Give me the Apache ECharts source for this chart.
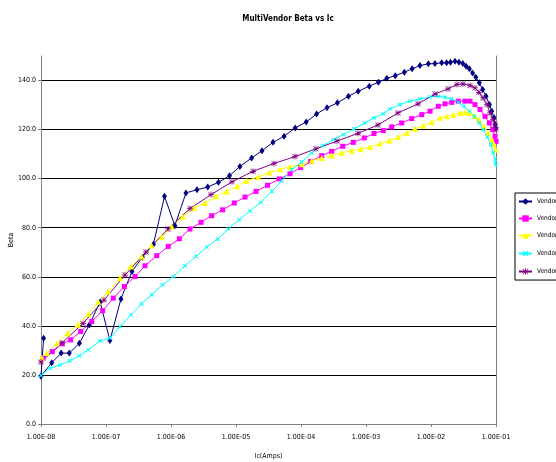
<!DOCTYPE html>
<html>
<head>
<meta charset="utf-8">
<script src="https://cdn.jsdelivr.net/npm/echarts@6/dist/echarts.min.js"></script>
<style>
html,body{margin:0;padding:0;background:#fff;}
#chart{width:556px;height:462px;}
</style>
</head>
<body>
<div id="chart"></div>
<script>
// ---- data (log10 of Ic in amps, and beta) ----
const seriesNames = ['Vendor A', 'Vendor B', 'Vendor C', 'Vendor D', 'Vendor E'];

const vendorA_logIc = [-7.96, -8.0, -7.835, -7.69, -7.565, -7.41, -7.257, -7.09, -6.94, -6.77, -6.60, -6.44, -6.27, -6.10, -5.94, -5.77, -5.60, -5.435, -5.27, -5.10, -4.94, -4.76, -4.60, -4.43, -4.26, -4.09, -3.92, -3.76, -3.60, -3.44, -3.27, -3.12, -2.95, -2.81, -2.68, -2.55, -2.41, -2.29, -2.17, -2.04, -1.94, -1.835, -1.76, -1.70, -1.63, -1.57, -1.51, -1.46, -1.41, -1.36, -1.31, -1.257, -1.205, -1.154, -1.10, -1.066, -1.03, -1.011, -1.005];
const vendorA_beta = [35.0, 19.5, 25.0, 28.9, 28.9, 32.9, 40.4, 49.7, 34.0, 51.0, 62.2, 68.0, 73.3, 92.8, 80.8, 94.2, 95.5, 96.6, 98.5, 101.2, 105.0, 108.4, 111.4, 114.8, 117.3, 120.7, 123.1, 126.4, 128.9, 130.9, 133.6, 135.6, 137.7, 139.3, 140.9, 142.0, 143.4, 144.8, 146.1, 146.8, 146.9, 147.2, 147.2, 147.5, 147.9, 147.5, 146.9, 145.8, 144.8, 143.1, 141.3, 139.1, 136.3, 133.6, 130.2, 127.5, 124.8, 122.0, 120.7];

const vendorB_logIc = [-7.965, -7.826, -7.672, -7.543, -7.389, -7.22, -7.051, -6.888, -6.718, -6.554, -6.40, -6.22, -6.042, -5.872, -5.708, -5.538, -5.374, -5.205, -5.026, -4.862, -4.692, -4.515, -4.334, -4.169, -4.005, -3.851, -3.682, -3.528, -3.358, -3.195, -3.026, -2.877, -2.734, -2.605, -2.451, -2.297, -2.143, -2.015, -1.888, -1.785, -1.682, -1.58, -1.477, -1.40, -1.323, -1.246, -1.169, -1.103, -1.051, -1.015, -1.0];
const vendorB_beta = [26.8, 29.5, 32.7, 34.3, 37.7, 41.8, 46.2, 51.3, 56.0, 60.1, 64.5, 68.6, 72.4, 75.5, 79.5, 82.2, 84.9, 87.3, 90.1, 92.5, 94.8, 97.3, 99.9, 102.0, 104.5, 107.0, 109.4, 111.1, 113.2, 114.8, 116.6, 118.4, 119.6, 121.1, 122.7, 124.5, 126.1, 127.5, 129.5, 130.5, 131.1, 131.6, 131.6, 131.6, 130.2, 128.2, 125.4, 122.7, 120.0, 117.3, 115.2];

const vendorC_logIc = [-7.985, -7.908, -7.754, -7.592, -7.431, -7.272, -7.118, -6.965, -6.785, -6.62, -6.451, -6.297, -6.143, -5.989, -5.82, -5.646, -5.477, -5.308, -5.143, -4.98, -4.835, -4.657, -4.488, -4.323, -4.169, -3.989, -3.835, -3.682, -3.528, -3.374, -3.22, -3.082, -2.938, -2.785, -2.642, -2.503, -2.374, -2.246, -2.118, -1.989, -1.862, -1.758, -1.657, -1.554, -1.477, -1.40, -1.323, -1.257, -1.185, -1.118, -1.066, -1.031, -1.005];
const vendorC_beta = [27.0, 28.9, 32.9, 37.0, 40.6, 44.8, 49.8, 54.0, 59.5, 64.2, 68.3, 72.8, 76.2, 80.5, 84.6, 88.0, 90.1, 92.8, 94.8, 96.9, 99.2, 100.7, 102.5, 103.8, 104.8, 105.9, 107.3, 108.4, 109.4, 110.5, 111.4, 112.1, 112.9, 114.3, 115.6, 117.0, 118.6, 120.3, 121.6, 123.0, 124.8, 125.4, 126.1, 126.8, 127.1, 126.8, 125.4, 123.7, 121.3, 118.6, 115.9, 113.9, 111.8];

const vendorD_logIc = [-8.0, -7.862, -7.708, -7.554, -7.411, -7.272, -7.092, -6.938, -6.785, -6.615, -6.454, -6.297, -6.128, -5.965, -5.785, -5.615, -5.451, -5.282, -5.118, -4.949, -4.785, -4.62, -4.451, -4.297, -4.143, -3.989, -3.835, -3.666, -3.503, -3.349, -3.185, -3.015, -2.877, -2.734, -2.631, -2.477, -2.323, -2.169, -2.015, -1.888, -1.785, -1.682, -1.58, -1.492, -1.411, -1.334, -1.257, -1.195, -1.134, -1.082, -1.042, -1.015, -1.005];
const vendorD_beta = [19.8, 22.7, 24.1, 25.8, 27.8, 30.2, 33.9, 35.0, 39.7, 44.5, 49.0, 52.7, 56.7, 60.1, 64.5, 68.3, 72.1, 75.4, 79.5, 83.3, 86.9, 90.3, 94.8, 99.0, 103.7, 106.8, 110.5, 113.5, 115.9, 118.0, 120.3, 122.7, 124.8, 126.5, 128.4, 130.2, 131.6, 132.5, 133.3, 133.6, 133.2, 132.5, 131.1, 129.5, 127.5, 125.4, 122.7, 120.0, 117.0, 113.9, 110.5, 107.8, 105.7];

const vendorE_logIc = [-8.0, -7.677, -7.354, -7.031, -6.708, -6.385, -6.046, -5.708, -5.385, -5.062, -4.738, -4.415, -4.092, -3.769, -3.446, -3.123, -2.815, -2.508, -2.2, -1.938, -1.738, -1.6, -1.508, -1.4, -1.323, -1.262, -1.2, -1.138, -1.092, -1.046, -1.015, -1.0];
const vendorE_beta = [25.3, 33.0, 41.0, 50.5, 60.7, 70.1, 79.5, 87.8, 93.5, 98.7, 103.0, 106.2, 109.0, 112.2, 115.3, 118.5, 121.9, 126.8, 130.5, 134.5, 136.6, 138.4, 138.6, 138.0, 137.0, 135.2, 132.9, 130.2, 126.8, 124.1, 122.0, 120.0];

const xTickLabels = ['1.00E-08', '1.00E-07', '1.00E-06', '1.00E-05', '1.00E-04', '1.00E-03', '1.00E-02', '1.00E-01'];
const yTickValues = [0, 20, 40, 60, 80, 100, 120, 140];

// ---- build ----
function pairs(logIc, beta) {
  return logIc.map((e, i) => [Math.pow(10, e), beta[i]]);
}
const FONT = "'Liberation Sans Narrow', 'Arial Narrow', 'DejaVu Sans Condensed', 'Liberation Sans', Arial, sans-serif";
const plusPath = 'path://M4,0H6V4H10V6H6V10H4V6H0V4H4Z';
const starPath = 'path://M4.4,0H5.6V4.4H10V5.6H5.6V10H4.4V5.6H0V4.4H4.4Z M1.2,0.4L5,4.2L8.8,0.4L9.6,1.2L5.8,5L9.6,8.8L8.8,9.6L5,5.8L1.2,9.6L0.4,8.8L4.2,5L0.4,1.2Z';

const styles = [
  {color: '#000080', symbol: 'diamond', size: [5, 7], rotate: 0},
  {color: '#FF00FF', symbol: 'rect', size: 5, rotate: 0},
  {color: '#FFFF00', symbol: 'triangle', size: 6, rotate: 0},
  {color: '#00FFFF', symbol: plusPath, size: 5, rotate: 45},
  {color: '#800080', symbol: starPath, size: 6, rotate: 0}
];
const allData = [
  pairs(vendorA_logIc, vendorA_beta),
  pairs(vendorB_logIc, vendorB_beta),
  pairs(vendorC_logIc, vendorC_beta),
  pairs(vendorD_logIc, vendorD_beta),
  pairs(vendorE_logIc, vendorE_beta)
];

const chart = echarts.init(document.getElementById('chart'), null, {renderer: 'canvas'});
chart.setOption({
  backgroundColor: '#fff',
  animation: false,
  title: {
    text: 'MultiVendor Beta vs Ic',
    left: 283, top: 10, textAlign: 'center',
    textStyle: {fontFamily: FONT, fontSize: 8, fontWeight: 'bold', color: '#000'}
  },
  legend: {
    orient: 'vertical',
    left: 515, top: 193,
    padding: [5, 3, 5, 3],
    itemWidth: 13, itemHeight: 8, itemGap: 10,
    borderColor: '#000', borderWidth: 1,
    backgroundColor: '#fff',
    textStyle: {fontFamily: FONT, fontSize: 6.5, color: '#000'},
    data: seriesNames
  },
  grid: {left: 41, right: 60, top: 56, bottom: 38, containLabel: false, outerBoundsMode: 'none'},
  xAxis: {
    type: 'log', logBase: 10, min: 1e-8, max: 1e-1, interval: 1,
    name: 'Ic(Amps)', nameLocation: 'middle', nameGap: 29, nameMoveOverlap: false,
    nameTextStyle: {fontFamily: FONT, fontSize: 7, color: '#000'},
    axisLine: {show: true, lineStyle: {color: '#808080', width: 1}},
    axisTick: {show: true, inside: false, length: 3, lineStyle: {color: '#808080'}},
    minorTick: {show: false},
    splitLine: {show: false},
    axisLabel: {
      fontFamily: FONT, fontSize: 7, color: '#000', margin: 10,
      formatter: v => xTickLabels[Math.round(Math.log10(v)) + 8]
    }
  },
  yAxis: [{
    type: 'value', min: 0, max: 150, interval: 20,
    name: 'Beta', nameLocation: 'middle', nameGap: 26, nameMoveOverlap: false,
    nameTextStyle: {fontFamily: FONT, fontSize: 7, color: '#000'},
    axisLine: {show: true, lineStyle: {color: '#808080', width: 1}},
    axisTick: {show: true, length: 3, lineStyle: {color: '#808080'}, customValues: yTickValues},
    splitLine: {show: true, lineStyle: {color: '#000', width: 1}},
    axisLabel: {
      fontFamily: FONT, fontSize: 7, color: '#000', margin: 5,
      customValues: yTickValues,
      formatter: v => v.toFixed(1)
    }
  }, {
    type: 'value', min: 0, max: 150, position: 'right',
    axisLine: {show: true, lineStyle: {color: '#808080', width: 1}},
    axisTick: {show: false}, axisLabel: {show: false}, splitLine: {show: false}
  }],
  series: seriesNames.map((name, i) => ({
    name: name,
    type: 'line',
    yAxisIndex: 0,
    data: allData[i],
    symbol: styles[i].symbol,
    symbolSize: styles[i].size,
    symbolRotate: styles[i].rotate,
    showAllSymbol: true,
    clip: true,
    lineStyle: {color: styles[i].color, width: 1},
    itemStyle: {color: styles[i].color, borderWidth: 0},
    emphasis: {disabled: true}
  }))
});
</script>
</body>
</html>
